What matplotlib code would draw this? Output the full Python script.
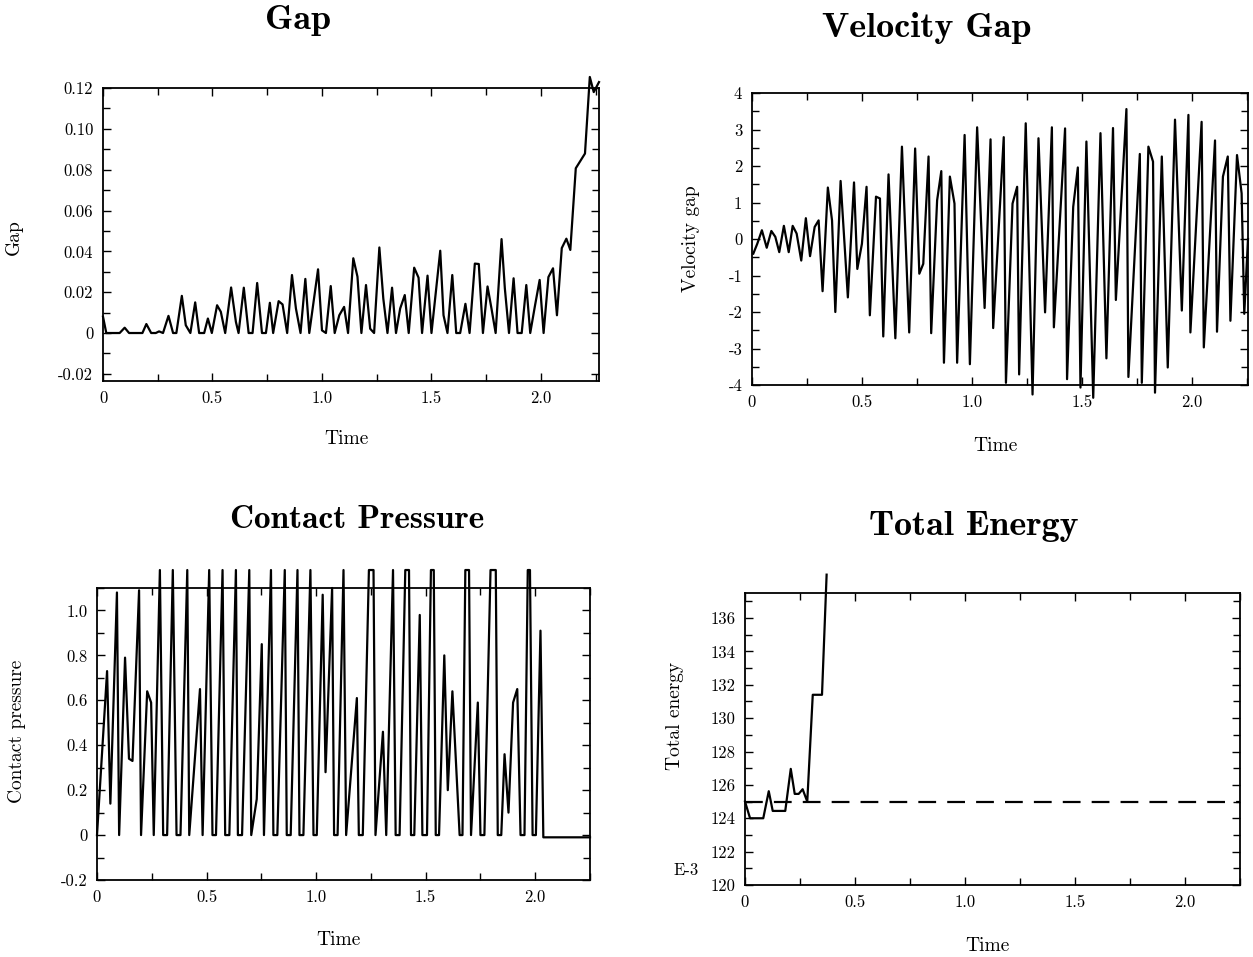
import numpy as np
import matplotlib
matplotlib.use("Agg")
import matplotlib.pyplot as plt
from matplotlib.ticker import MultipleLocator, FuncFormatter

plt.rcParams['axes.unicode_minus'] = False

# ---- Gap ----
gap_t = [0.000, 0.015, 0.076, 0.099, 0.119, 0.180, 0.198, 0.220, 0.241, 0.256,
         0.274, 0.299, 0.320, 0.335, 0.360, 0.378, 0.399, 0.421, 0.439, 0.462,
         0.479, 0.497, 0.521, 0.538, 0.558, 0.585, 0.607, 0.619, 0.643, 0.665,
         0.683, 0.704, 0.726, 0.744, 0.762, 0.777, 0.802, 0.820, 0.841, 0.863,
         0.881, 0.902, 0.924, 0.942, 0.982, 1.000, 1.018, 1.040, 1.058, 1.079,
         1.101, 1.119, 1.143, 1.162, 1.180, 1.201, 1.220, 1.238, 1.262, 1.280,
         1.299, 1.320, 1.338, 1.357, 1.378, 1.396, 1.421, 1.441, 1.457, 1.482,
         1.500, 1.540, 1.555, 1.573, 1.595, 1.613, 1.631, 1.655, 1.674, 1.698,
         1.716, 1.735, 1.756, 1.774, 1.793, 1.820, 1.835, 1.854, 1.875, 1.893,
         1.912, 1.933, 1.951, 1.973, 1.994, 2.012, 2.034, 2.055, 2.073, 2.095,
         2.116, 2.134, 2.159, 2.201, 2.223, 2.241, 2.265]
gap_v = [0.0080, 0.0, 0.0, 0.0026, 0.0, 0.0, 0.0044, 0.0, 0.0, 0.0008,
         0.0, 0.0084, 0.0, 0.0, 0.0182, 0.0038, 0.0, 0.0150, 0.0, 0.0,
         0.0071, 0.0, 0.0136, 0.0104, 0.0, 0.0223, 0.0054, 0.0, 0.0222, 0.0,
         0.0, 0.0245, 0.0, 0.0, 0.0148, 0.0, 0.0156, 0.0140, 0.0, 0.0284,
         0.0120, 0.0, 0.0265, 0.0, 0.0312, 0.0013, 0.0, 0.0230, 0.0, 0.0087,
         0.0128, 0.0, 0.0366, 0.0276, 0.0, 0.0235, 0.0021, 0.0, 0.0419, 0.0169,
         0.0, 0.0222, 0.0, 0.0120, 0.0186, 0.0, 0.0320, 0.0271, 0.0, 0.0281,
         0.0, 0.0403, 0.0087, 0.0, 0.0284, 0.0, 0.0, 0.0143, 0.0, 0.0340,
         0.0338, 0.0, 0.0228, 0.0120, 0.0, 0.0460, 0.0219, 0.0, 0.0268, 0.0,
         0.0, 0.0235, 0.0, 0.0136, 0.0260, 0.0, 0.0274, 0.0317, 0.0087, 0.0416,
         0.0462, 0.0407, 0.0807, 0.0879, 0.1254, 0.1180, 0.1229]

# ---- Velocity gap ----
vel_t = [0.006, 0.024, 0.045, 0.067, 0.088, 0.106, 0.124, 0.145, 0.167, 0.185,
         0.203, 0.224, 0.245, 0.264, 0.285, 0.303, 0.321, 0.345, 0.364, 0.379,
         0.403, 0.436, 0.464, 0.479, 0.500, 0.521, 0.536, 0.564, 0.582, 0.597,
         0.621, 0.652, 0.682, 0.715, 0.742, 0.761, 0.779, 0.803, 0.815, 0.842,
         0.861, 0.873, 0.900, 0.921, 0.933, 0.967, 0.991, 1.024, 1.058, 1.085,
         1.097, 1.145, 1.155, 1.185, 1.206, 1.215, 1.245, 1.276, 1.303, 1.333,
         1.364, 1.373, 1.424, 1.433, 1.461, 1.482, 1.494, 1.521, 1.552, 1.585,
         1.612, 1.642, 1.655, 1.703, 1.712, 1.764, 1.773, 1.803, 1.824, 1.833,
         1.864, 1.891, 1.924, 1.955, 1.985, 1.994, 2.045, 2.055, 2.106, 2.115,
         2.142, 2.164, 2.176, 2.206, 2.227, 2.239, 2.256]
vel_v = [-0.40, -0.13, 0.24, -0.24, 0.22, 0.06, -0.36, 0.36, -0.36, 0.36,
         0.15, -0.59, 0.57, -0.47, 0.33, 0.51, -1.43, 1.41, 0.51, -2.00,
         1.59, -1.60, 1.55, -0.82, -0.13, 1.43, -2.09, 1.16, 1.11, -2.67,
         1.77, -2.72, 2.53, -2.56, 2.48, -0.95, -0.68, 2.26, -2.58, 1.06,
         1.86, -3.39, 1.71, 0.97, -3.39, 2.85, -3.43, 3.06, -1.89, 2.73,
         -2.44, 2.79, -3.94, 0.97, 1.43, -3.71, 3.17, -4.26, 2.76, -2.01,
         3.06, -2.42, 3.03, -3.84, 0.88, 1.96, -4.07, 2.67, -4.35, 2.90,
         -3.27, 3.04, -1.67, 3.56, -3.78, 2.33, -3.94, 2.53, 2.12, -4.21,
         2.26, -3.52, 3.27, -1.96, 3.40, -2.56, 3.21, -2.97, 2.70, -2.54,
         1.71, 2.26, -2.24, 2.30, 1.25, -2.05, 0.00]

# ---- Contact pressure ----
cp_t = [0.000, 0.046, 0.061, 0.091, 0.101, 0.128, 0.146, 0.162, 0.192, 0.201,
        0.229, 0.247, 0.259, 0.287, 0.302, 0.320, 0.346, 0.363, 0.381, 0.412,
        0.421, 0.470, 0.482, 0.512, 0.527, 0.543, 0.573, 0.585, 0.604, 0.634,
        0.643, 0.662, 0.695, 0.704, 0.729, 0.752, 0.762, 0.794, 0.805, 0.823,
        0.857, 0.866, 0.884, 0.915, 0.924, 0.942, 0.974, 0.988, 1.003, 1.030,
        1.043, 1.073, 1.082, 1.098, 1.125, 1.137, 1.186, 1.195, 1.213, 1.241,
        1.262, 1.271, 1.305, 1.320, 1.351, 1.363, 1.381, 1.407, 1.424, 1.433,
        1.448, 1.473, 1.485, 1.506, 1.524, 1.537, 1.546, 1.561, 1.585, 1.601,
        1.622, 1.655, 1.668, 1.681, 1.698, 1.707, 1.738, 1.750, 1.768, 1.796,
        1.820, 1.829, 1.845, 1.860, 1.878, 1.899, 1.918, 1.933, 1.951, 1.966,
        1.976, 1.988, 2.003, 2.024, 2.037, 2.250]
cp_v = [0.00, 0.73, 0.14, 1.08, 0.00, 0.79, 0.34, 0.33, 1.09, 0.00,
        0.64, 0.59, 0.00, 1.18, 0.00, 0.00, 1.18, 0.00, 0.00, 1.18,
        0.00, 0.65, 0.00, 1.18, 0.00, 0.00, 1.18, 0.00, 0.00, 1.18,
        0.00, 0.00, 1.18, 0.00, 0.16, 0.85, 0.00, 1.18, 0.00, 0.00,
        1.18, 0.00, 0.00, 1.18, 0.00, 0.00, 1.18, 0.00, 0.00, 1.07,
        0.28, 1.10, 0.00, 0.00, 1.18, 0.00, 0.61, 0.00, 0.00, 1.18,
        1.18, 0.00, 0.46, 0.00, 1.18, 0.00, 0.00, 1.18, 1.18, 0.00,
        0.00, 0.98, 0.00, 0.00, 1.18, 1.18, 0.00, 0.00, 0.80, 0.20,
        0.64, 0.00, 0.00, 1.18, 1.18, 0.00, 0.59, 0.00, 0.00, 1.18,
        1.18, 0.00, 0.00, 0.36, 0.10, 0.59, 0.65, 0.00, 0.00, 1.18,
        1.18, 0.00, 0.00, 0.91, -0.01, -0.01]

# ---- Total energy (x 1E-3) ----
en_t = [0.000, 0.023, 0.083, 0.108, 0.126, 0.183, 0.208, 0.226, 0.244, 0.262,
        0.283, 0.308, 0.350, 0.371]
en_v = [125.0, 124.0, 124.0, 125.62, 124.44, 124.44, 126.96, 125.46, 125.46, 125.74,
        125.0, 131.4, 131.4, 138.6]
en_ref_t = [0.0, 2.25]
en_ref_v = [124.95, 124.95]

W, H = 1253, 957
fig = plt.figure(figsize=(W / 100, H / 100), dpi=100)

RM = 'cmr10'
BF = 'cmb10'


def box(l, r, t, b):
    return [l / W, 1 - b / H, (r - l) / W, (b - t) / H]


def fmt_x(v, pos):
    return '0' if abs(v) < 1e-9 else '%.1f' % v


def style(ax, xmax, ylim, ymaj, ymin_step, yfmt, ylab, ylab_xy, xlab_y):
    ax.set_xlim(0, xmax)
    ax.set_ylim(*ylim)
    ax.xaxis.set_major_locator(MultipleLocator(0.5))
    ax.xaxis.set_minor_locator(MultipleLocator(0.25))
    ax.yaxis.set_major_locator(MultipleLocator(ymaj))
    ax.yaxis.set_minor_locator(MultipleLocator(ymin_step))
    ax.xaxis.set_major_formatter(FuncFormatter(fmt_x))
    ax.yaxis.set_major_formatter(FuncFormatter(yfmt))
    ax.tick_params(which='both', direction='in', top=True, right=True,
                   width=1.0, labelsize=12, pad=7)
    ax.tick_params(which='major', length=6)
    ax.tick_params(which='minor', length=5)
    for lab in ax.get_xticklabels() + ax.get_yticklabels():
        lab.set_family(RM)
    for sp in ax.spines.values():
        sp.set_linewidth(1.3)
    ax.set_xlabel('Time', family=RM, fontsize=14)
    ax.xaxis.set_label_coords(0.49, xlab_y)
    ax.set_ylabel(ylab, family=RM, fontsize=14)
    ax.yaxis.set_label_coords(*ylab_xy)


# Gap
ax1 = fig.add_axes(box(103, 599, 88, 381))
ax1.plot(gap_t, gap_v, color='black', lw=1.6, clip_on=False)
style(ax1, 2.265, (-0.0235, 0.12), 0.02, 0.01,
      lambda v, p: '0' if abs(v) < 1e-9 else '%.2f' % v, 'Gap', (-0.161, 0.49), -0.167)

# Velocity gap
ax2 = fig.add_axes(box(752, 1248, 93, 385))
ax2.plot(vel_t, vel_v, color='black', lw=1.6, clip_on=False)
style(ax2, 2.256, (-4, 4), 1, 0.5,
      lambda v, p: '%d' % round(v), 'Velocity gap', (-0.105, 0.50), -0.178)

# Contact pressure
ax3 = fig.add_axes(box(97, 590, 588, 880))
ax3.plot(cp_t, cp_v, color='black', lw=1.6, clip_on=False)
style(ax3, 2.25, (-0.2, 1.1), 0.2, 0.1,
      lambda v, p: '0' if abs(v) < 1e-9 else '%.1f' % v, 'Contact pressure', (-0.144, 0.51), -0.175)

# Total energy
ax4 = fig.add_axes(box(745, 1240, 593, 885))
ax4.plot(en_t, en_v, color='black', lw=1.6, clip_on=False)
ax4.plot(en_ref_t, en_ref_v, color='black', lw=1.6, ls=(0, (8, 5)))
style(ax4, 2.25, (120, 137.5), 2, 1,
      lambda v, p: '%d' % round(v), 'Total energy', (-0.123, 0.58), -0.178)
fig.text(686 / W, 1 - 870 / H, 'E-3', family=RM, fontsize=12, ha='center', va='center')

# titles
fig.text(298 / W, 1 - 20 / H, 'Gap', family=BF, fontsize=26, ha='center', va='center')
fig.text(927 / W, 1 - 28 / H, 'Velocity Gap', family=BF, fontsize=26, ha='center', va='center')
fig.text(357 / W, 1 - 520 / H, 'Contact Pressure', family=BF, fontsize=24, ha='center', va='center')
fig.text(974 / W, 1 - 527 / H, 'Total Energy', family=BF, fontsize=26, ha='center', va='center')

fig.savefig('out.png', dpi=100, facecolor='white')
